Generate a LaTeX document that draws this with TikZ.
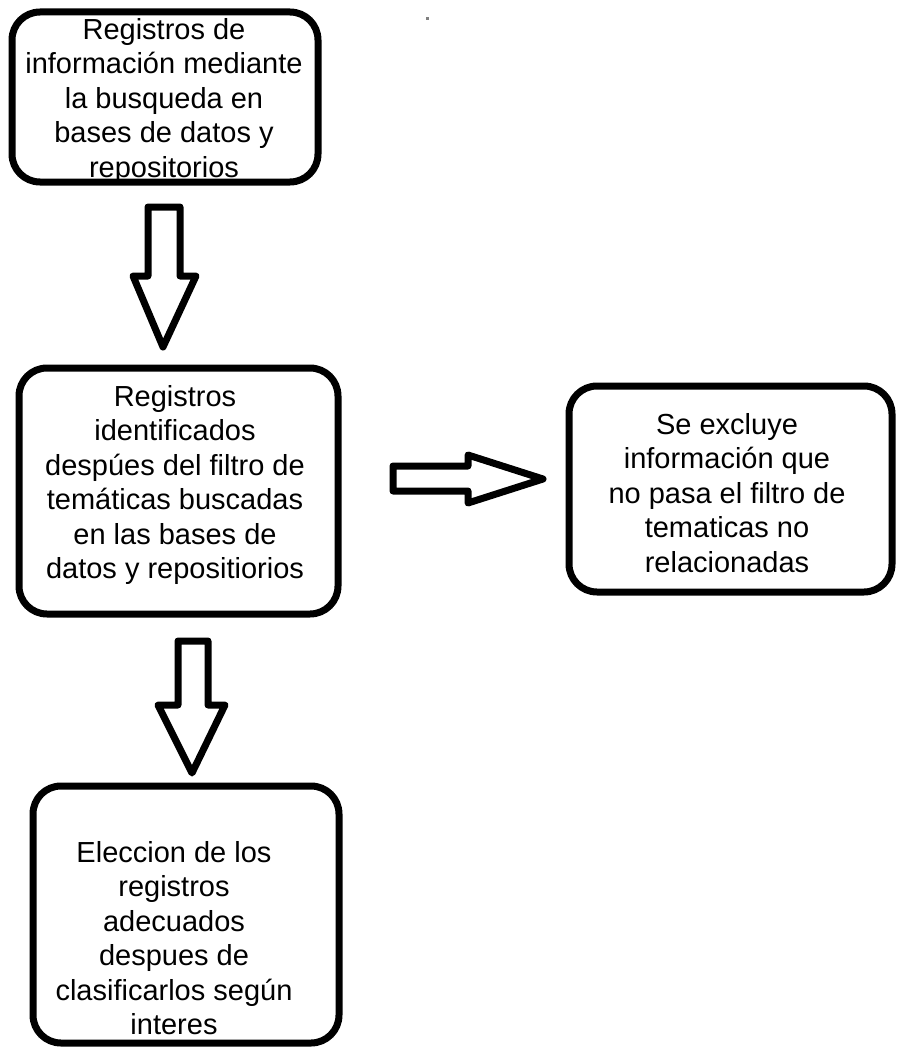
\documentclass[tikz,border=0pt]{standalone}
\usepackage{fontspec}
\setmainfont{Liberation Sans}
\begin{document}
\begin{tikzpicture}[x=1pt,y=-1pt,
  box/.style={draw, line width=7pt, rounded corners=28pt, inner sep=0pt},
  txt/.style={align=center, font=\fontsize{29}{34.5}\selectfont, inner sep=0pt},
  blockarrow/.style={draw, line width=7pt, line join=round, fill=white}]
\useasboundingbox (0,0) rectangle (897,1049);
\fill[white] (0,0) rectangle (897,1049);
% boxes
\node[box, minimum width=306pt, minimum height=170pt] (b1) at (165,97) {};
\node[box, minimum width=319pt, minimum height=246pt] (b2) at (178.5,491) {};
\node[box, minimum width=323pt, minimum height=206pt] (b3) at (730.5,489) {};
\node[box, minimum width=306pt, minimum height=257pt] (b4) at (186,914.5) {};
% texts
\node[txt] (t1) at (164,101) {Registros de\\información mediante\\la busqueda en\\bases de datos y\\repositorios};
\node[txt] (t2) at (175,485) {Registros\\identificados\\despúes del filtro de\\temáticas buscadas\\en las bases de\\datos y repositiorios};
\node[txt] (t3) at (727,493) {Se excluye\\información que\\no pasa el filtro de\\tematicas no\\relacionadas};
\node[txt] (t4) at (174,938) {Eleccion de los\\registros\\adecuados\\despues de\\clasificarlos según\\interes};
% block arrows
\draw[blockarrow] (148,207) -- (180,207) -- (180,276) -- (196,276) -- (163,347) -- (133,276) -- (148,276) -- cycle;
\draw[blockarrow] (393,466) -- (468,466) -- (468,455) -- (543,479) -- (468,503) -- (468,491) -- (393,491) -- cycle;
\draw[blockarrow] (178,641) -- (208,641) -- (208,705) -- (225,705) -- (192,773) -- (158,705) -- (178,705) -- cycle;
% stray dot
\fill[gray] (425.5,17.5) rectangle (428.5,20.5);
\end{tikzpicture}
\end{document}
